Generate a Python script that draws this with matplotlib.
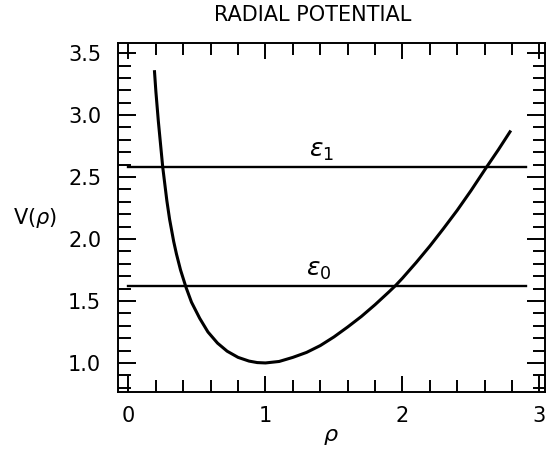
import numpy as np
import matplotlib
matplotlib.use("Agg")
import matplotlib.pyplot as plt
from matplotlib.ticker import MultipleLocator

plt.rcParams['font.family'] = ['DejaVu Sans']
plt.rcParams['mathtext.fontset'] = 'dejavusans'

# radial potential V(rho)
rho = [0.19, 0.20, 0.218, 0.25, 0.28, 0.30, 0.33, 0.35, 0.38, 0.42,
       0.46, 0.52, 0.58, 0.65, 0.72, 0.80, 0.88, 0.94, 1.00, 1.10,
       1.20, 1.30, 1.40, 1.50, 1.60, 1.70, 1.80, 1.90, 1.95, 2.00,
       2.10, 2.20, 2.30, 2.40, 2.50, 2.62, 2.70, 2.785]
V = [3.35, 3.19, 2.95, 2.58, 2.31, 2.16, 1.98, 1.88, 1.75, 1.61,
     1.49, 1.36, 1.25, 1.16, 1.095, 1.045, 1.015, 1.003, 1.000, 1.012,
     1.045, 1.085, 1.14, 1.21, 1.29, 1.375, 1.47, 1.572, 1.625, 1.684,
     1.81, 1.943, 2.085, 2.232, 2.39, 2.59, 2.72, 2.865]

# energy levels
eps0 = 1.62
eps1 = 2.585
level_span = [0.0, 2.9]

fig = plt.figure(figsize=(5.46, 4.5), dpi=100)
ax = fig.add_axes([0.216, 0.129, 0.782, 0.775])

ax.plot(rho, V, color='black', lw=2.2, solid_joinstyle='round')
ax.plot(level_span, [eps1, eps1], color='black', lw=1.7)
ax.plot(level_span, [eps0, eps0], color='black', lw=1.7)

ax.text(1.41, eps1 + 0.03, r'$\epsilon_1$', fontsize=18, ha='center', va='bottom')
ax.text(1.39, eps0 + 0.03, r'$\epsilon_0$', fontsize=18, ha='center', va='bottom')

ax.set_xlim(-0.077, 3.04)
ax.set_ylim(0.766, 3.58)

ax.xaxis.set_minor_locator(MultipleLocator(0.2))
ax.yaxis.set_minor_locator(MultipleLocator(0.1))
ax.set_xticks([0, 1, 2, 3])
ax.set_xticklabels(['0', '1', '2', '3'])
ax.set_yticks([1.0, 1.5, 2.0, 2.5, 3.0, 3.5])
ax.set_yticklabels(['1.0', '1.5', '2.0', '2.5', '3.0', '3.5'])

ax.tick_params(which='both', direction='in', top=True, right=True, width=1.4,
               labelsize=15)
ax.tick_params(axis='x', which='major', length=11.5, pad=10)
ax.tick_params(axis='x', which='minor', length=8.5)
ax.tick_params(axis='y', which='major', length=13, pad=12)
ax.tick_params(axis='y', which='minor', length=9)
for s in ax.spines.values():
    s.set_linewidth(1.4)

fig.text(331 / 546, 1 - 437 / 450, r'$\rho$', fontsize=16, ha='center', va='center')
fig.text(35 / 546, 1 - 218 / 450, r'V($\rho$)', fontsize=15, ha='center', va='center')
fig.text(313 / 546, 1 - 15 / 450, 'RADIAL POTENTIAL', fontsize=15, ha='center', va='center')

fig.savefig('out.png', dpi=100)
